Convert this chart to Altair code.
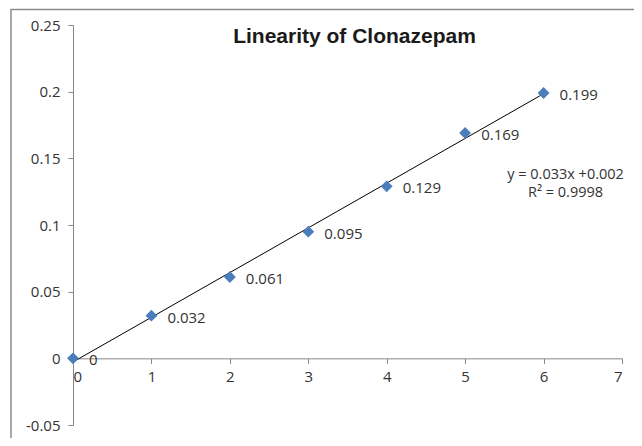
import altair as alt
import pandas as pd

conc = [0, 1, 2, 3, 4, 5, 6]
absorb = [0, 0.032, 0.061, 0.095, 0.129, 0.169, 0.199]
labels = ["0", "0.032", "0.061", "0.095", "0.129", "0.169", "0.199"]
y_ticks = [-0.05, 0, 0.05, 0.1, 0.15, 0.2, 0.25]
x_ticks = [0, 1, 2, 3, 4, 5, 6, 7]
eq_lines = ["y = 0.033x +0.002", "R² = 0.9998"]
eq_x = [6.28, 6.28]
eq_y = [0.1375, 0.1240]

df = pd.DataFrame({"x": conc, "y": absorb, "label": labels})

W, H = 549, 400
xs = alt.Scale(domain=[0, 7], nice=False, zero=False)
ys = alt.Scale(domain=[-0.05, 0.25], nice=False, zero=False)

base = alt.Chart(df)

xaxis = alt.Axis(values=x_ticks, format="d", offset=-H * 0.05 / 0.3, title=None,
                 grid=False, tickSize=5, labelPadding=6)
yaxis = alt.Axis(values=y_ticks, title=None, grid=False, tickSize=5, labelPadding=8,
                 labelExpr="replace(format(datum.value, '.2~f'), '\u2212', '-')")

trend = base.transform_regression("x", "y", extent=[0, 6]).mark_line(
    color="black", strokeWidth=1
).encode(
    x=alt.X("x:Q", scale=xs, axis=xaxis),
    y=alt.Y("y:Q", scale=ys, axis=yaxis),
)

pts = base.mark_point(shape="diamond", filled=True, size=140, color="#4A7EBB",
                      opacity=1).encode(
    x=alt.X("x:Q", scale=xs),
    y=alt.Y("y:Q", scale=ys),
)

txt = base.mark_text(align="left", baseline="middle", dx=16, dy=2, fontSize=15,
                     font="Open Sans", color="#333").encode(
    x=alt.X("x:Q", scale=xs),
    y=alt.Y("y:Q", scale=ys),
    text="label:N",
)

eq = alt.Chart(pd.DataFrame({"t": eq_lines, "px": eq_x, "py": eq_y})).mark_text(
    align="center", baseline="middle", fontSize=14.5, font="Open Sans", color="#333"
).encode(
    x=alt.X("px:Q", scale=xs),
    y=alt.Y("py:Q", scale=ys),
    text="t:N",
)

frame = alt.Chart(pd.DataFrame({"k": [0]})).mark_rect(
    fill=None, stroke="#8a8a8a", strokeWidth=1.5
).encode(
    x=alt.value(-62), x2=alt.value(W + 40), y=alt.value(-15.5), y2=alt.value(H + 40)
)

chart = alt.layer(frame, trend, pts, txt, eq).properties(
    width=W, height=H,
    title=alt.TitleParams("Linearity of Clonazepam", font="Liberation Sans", fontSize=21,
                          fontWeight="bold", color="#1a1a1a", anchor="middle", dy=42, dx=7),
    autosize=alt.AutoSizeParams(type="none"),
    padding={"left": 65, "top": 17, "right": 12, "bottom": 13},
).configure_view(stroke=None).configure_axis(
    domainColor="#868686", tickColor="#868686", labelFont="Open Sans",
    labelFontSize=15, labelColor="#333", domainWidth=1
)

chart.save("out.html", embed_options={"renderer": "svg", "actions": False})
